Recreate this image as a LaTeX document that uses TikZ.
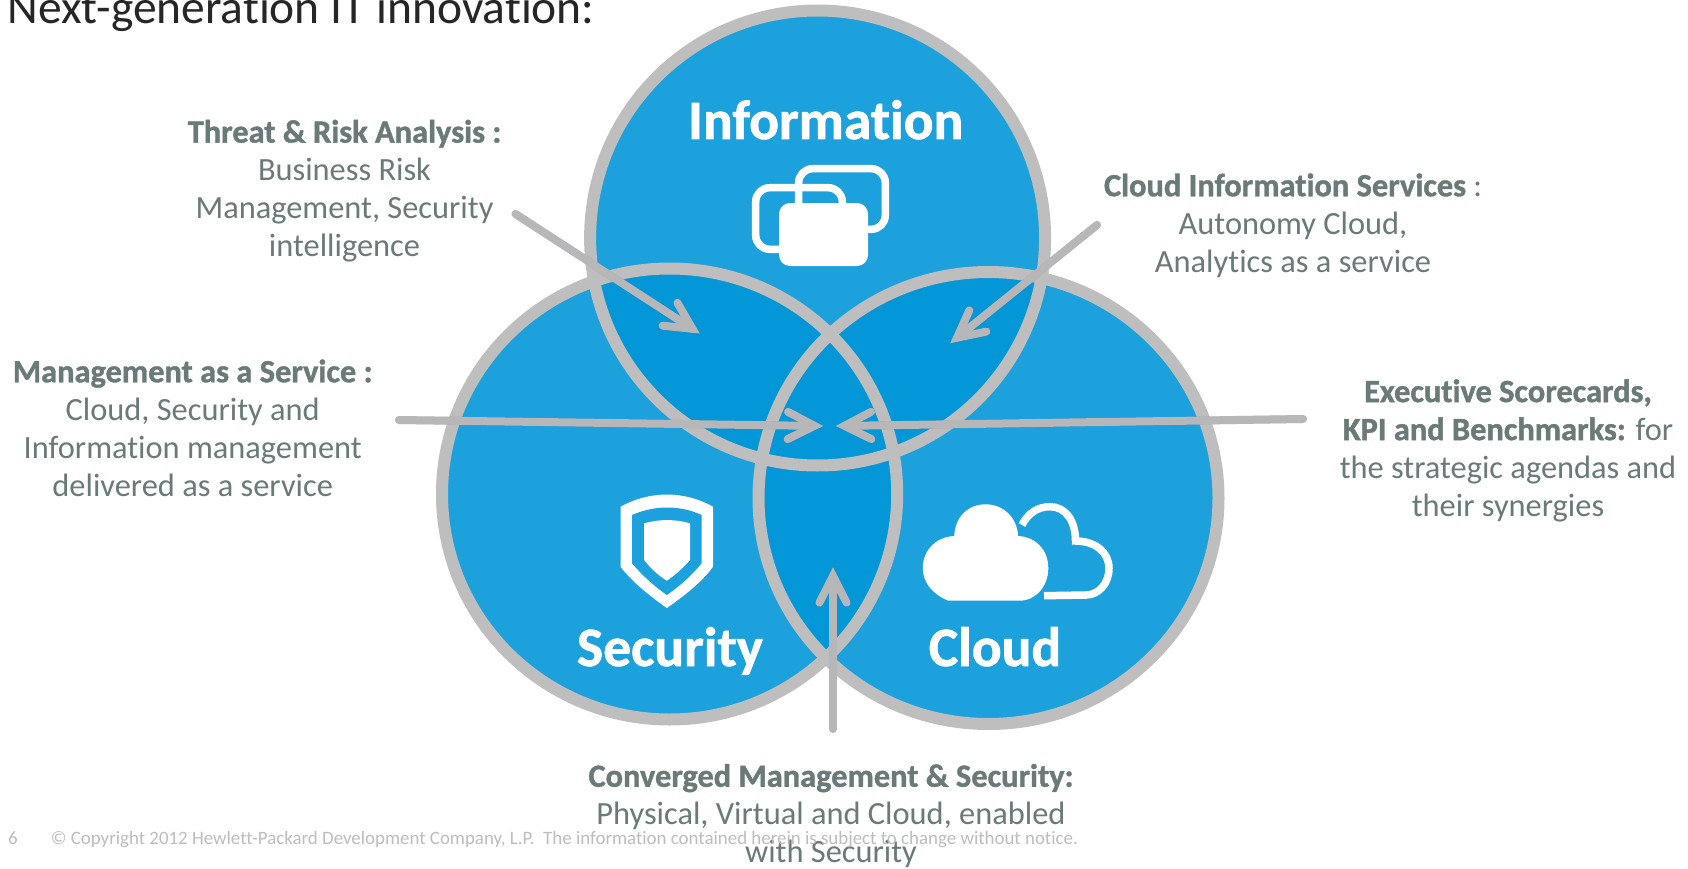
\documentclass[tikz,border=0pt]{standalone}
\usepackage{fontspec}
\setmainfont{Carlito}[Ligatures=NoCommon,BoldFeatures={FakeBold=1.2}]
\usetikzlibrary{calc}
\definecolor{blueA}{HTML}{1CA1DD}
\definecolor{blueB}{HTML}{0497D7}
\definecolor{ringC}{HTML}{BEBEBE}
\definecolor{arrowC}{HTML}{B7B7BA}
\definecolor{textC}{HTML}{6A7A78}
\definecolor{footC}{HTML}{BDBDBD}
\tikzset{
  ring/.style={draw=ringC,line width=12pt},
  bodytext/.style={text=textC,align=center,inner sep=0pt,font=\fontsize{32.4}{38}\selectfont},
  venn/.style={text=white,inner sep=0pt,anchor=base,font=\fontsize{55.5}{60}\selectfont\bfseries},
  foot/.style={text=footC,inner sep=0pt,anchor=base west,font=\fontsize{18.9}{22}\selectfont},
  shaft/.style={line width=8pt,line cap=round},
  outl/.style={draw=white,line width=7.5pt},
}
\newcommand{\chevron}[3]{%
  \coordinate (#1c) at ($(#3)!9pt!(#2)$);
  \draw[shaft,color=arrowC] (#2) -- (#1c);
  \draw[shaft,color=arrowC,line join=miter,miter limit=20]
    ($(#1c)!30pt!27:(#2)$) -- (#1c) -- ($(#1c)!30pt!-27:(#2)$);
}
\newcommand{\chevronshade}[3]{%
  \begin{scope}[shift={(2pt,4pt)},opacity=.14]
  \coordinate (#1d) at ($(#3)!9pt!(#2)$);
  \draw[shaft,color=black] (#2) -- (#1d);
  \draw[shaft,color=black,line join=miter,miter limit=20]
    ($(#1d)!30pt!27:(#2)$) -- (#1d) -- ($(#1d)!30pt!-27:(#2)$);
  \end{scope}
}
\begin{document}
\begin{tikzpicture}[x=1pt,y=-1pt]
\useasboundingbox (0,0) rectangle (1688,869);
\fill[white] (0,0) rectangle (1688,869);
\coordinate (I) at (817.6,238);
\coordinate (S) at (669.6,494);
\coordinate (C) at (988.5,498);
\def\discI{(I) ellipse [x radius=227.5pt,y radius=227.5pt]}
\def\discS{(S) ellipse [x radius=227.6pt,y radius=225.5pt]}
\def\discC{(C) ellipse [x radius=230pt,y radius=226pt]}
% discs
\fill[blueA] \discI;
\fill[blueA] \discS;
\fill[blueA] \discC;
\begin{scope}\clip \discI; \fill[blueB] \discS; \fill[blueB] \discC;\end{scope}
\begin{scope}\clip \discS; \fill[blueB] \discC;\end{scope}
% rings
\draw[ring] \discI;
\draw[ring] \discS;
\draw[ring] \discC;
% information icon
\draw[outl,rounded corners=14pt] (755.7,187.7) rectangle (842.3,249.3);
\draw[outl,rounded corners=14pt] (798.7,168.7) rectangle (885.3,229.3);
\fill[white,rounded corners=11pt] (779,203) rectangle (868,266);
% shield icon
\fill[white] (620.5,506.7) .. controls (650,490.5) and (684,490.5) .. (713,506.7) -- (713,566.7)
  .. controls (702,582) and (684,596) .. (666.8,608) .. controls (650,596) and (632,582) .. (620.5,566.7) -- cycle;
\fill[blueA] (632,515) .. controls (655,505) and (680,505) .. (701.6,515) -- (701.6,563.3)
  .. controls (692,575) and (680,586) .. (666.8,595) .. controls (654,586) and (642,575) .. (632,563.3) -- cycle;
\fill[white] (644.2,523.3) .. controls (659,519) and (675,519) .. (690.1,523.3) -- (690.1,560)
  .. controls (682,569) and (675,575) .. (666.8,580.7) .. controls (658,575) and (651,569) .. (644.2,560) -- cycle;
% cloud icons
\fill[white] (948.4,600.7) .. controls (932,594) and (922.8,582) .. (922.8,568.3)
  .. controls (922.8,550) and (936,537) .. (954.2,536)
  .. controls (955,517) and (968,504.3) .. (985.6,504.3)
  .. controls (1003,504.3) and (1017,517) .. (1018.1,536)
  .. controls (1036,537) and (1048.3,550) .. (1048.3,568.3)
  .. controls (1048.3,586) and (1036,600.7) .. (1019.2,600.7) -- cycle;
\draw[outl] (1022,525) .. controls (1028,513) and (1038,506.7) .. (1050,506.7)
  .. controls (1065,506.7) and (1075.5,520) .. (1075.5,541)
  .. controls (1095,541) and (1109,552) .. (1109,568.3)
  .. controls (1109,584) and (1098,595) .. (1086,595) -- (1044,595.7);
% text nodes
\node[anchor=base west,inner sep=0pt,text=black!85,font=\fontsize{47.5}{50}\selectfont] (title) at (7.5,24) {Next-generation IT innovation:};
\node[venn] (tinfo) at (825.7,139) {Information};
\node[venn] (tsec) at (670,666) {Security};
\node[venn] (tcloud) at (995,666) {Cloud};
\node[bodytext] (threat) at (344.5,191) {\textbf{Threat \& Risk Analysis :}\\Business Risk\\Management, Security\\intelligence};
\node[bodytext] (cinfo) at (1293,225.5) {\textbf{Cloud Information Services} :\\Autonomy Cloud,\\Analytics as a service};
\node[bodytext] (mgmt) at (192.7,428) {\textbf{Management as a Service :}\\Cloud, Security and\\Information management\\delivered as a service};
\node[bodytext] (exec) at (1508,450.5) {\textbf{Executive Scorecards,}\\\textbf{KPI and Benchmarks:} for\\the strategic agendas and\\their synergies};
\node[bodytext] (conv) at (831,816) {\textbf{Converged Management \& Security:}\\Physical, Virtual and Cloud, enabled\\with Security};
\node[foot] (pg) at (8,844) {6};
\node[foot] (copy) at (50.6,844) {© Copyright 2012 Hewlett-Packard Development Company, L.P.\ \ The information contained herein is subject to change without notice.};
% arrows
\coordinate (a1) at (515.5,214); \coordinate (a1e) at (700,333.7);
\coordinate (a2) at (1097,225);  \coordinate (a2e) at (950,343.4);
\coordinate (a3) at (399,420);   \coordinate (a3e) at (823.5,426);
\coordinate (a4) at (1303,419);  \coordinate (a4e) at (835.5,426);
\coordinate (a5) at (833,729);   \coordinate (a5e) at (833,567);
\chevronshade{p}{a1}{a1e}\chevronshade{q}{a2}{a2e}\chevronshade{r}{a3}{a3e}\chevronshade{s}{a4}{a4e}\chevronshade{t}{a5}{a5e}
\chevron{p}{a1}{a1e}\chevron{q}{a2}{a2e}\chevron{r}{a3}{a3e}\chevron{s}{a4}{a4e}\chevron{t}{a5}{a5e}
\end{tikzpicture}
\end{document}
